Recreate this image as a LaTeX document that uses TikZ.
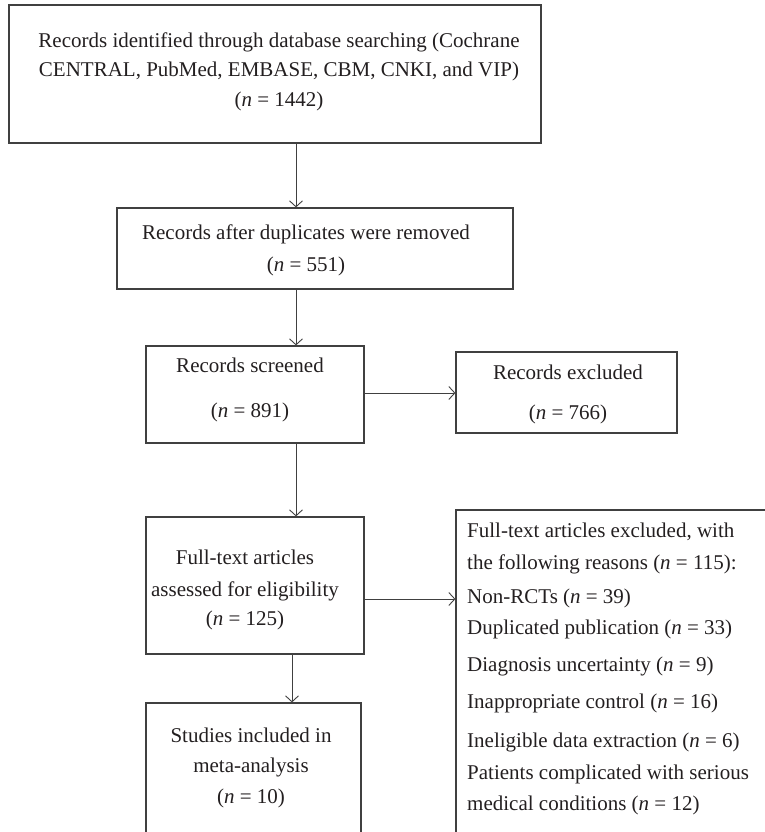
\documentclass[tikz,border=0pt]{standalone}
\usepackage{fontspec}
\setmainfont{Liberation Serif}
\usetikzlibrary{arrows.meta}
\definecolor{ink}{HTML}{231F20}
\definecolor{edge}{HTML}{404040}
\tikzset{
  box/.style={draw=edge, line width=1.2pt, inner sep=0pt, rectangle},
  txt/.style={anchor=base, inner sep=0pt, text=ink, font=\fontsize{21}{26}\selectfont},
  ltxt/.style={txt, anchor=base west},
  arr/.style={draw=edge, line width=0.9pt, -{Straight Barb[length=6pt,width=13pt]}}
}
\newcommand{\nn}{\textit{n}}
\begin{document}
\begin{tikzpicture}[x=1pt,y=-1pt]
\useasboundingbox (0,0) rectangle (765,832);
\clip (0,0) rectangle (765,832);
% boxes
\node[box, minimum width=532pt, minimum height=138pt] (b1) at (275,74) {};
\node[box, minimum width=396pt, minimum height=81pt] (b2) at (315,248.5) {};
\node[box, minimum width=218pt, minimum height=97pt] (b3) at (255,394.5) {};
\node[box, minimum width=221pt, minimum height=81pt] (b4) at (566.5,392.5) {};
\node[box, minimum width=218pt, minimum height=137pt] (b5) at (255,585.5) {};
\node[box, minimum width=344pt, minimum height=360pt] (b6) at (628,690) {};
\node[box, minimum width=215pt, minimum height=167pt] (b7) at (253.5,786.5) {};
% texts
\node[txt] (t1a) at (279,48) {Records identified through database searching (Cochrane};
\node[txt] (t1b) at (279,77) {CENTRAL, PubMed, EMBASE, CBM, CNKI, and VIP)};
\node[txt] (t1c) at (279,107) {(\nn{} = 1442)};
\node[txt] (t2a) at (306,239) {Records after duplicates were removed};
\node[txt] (t2b) at (306,271) {(\nn{} = 551)};
\node[txt] (t3a) at (250,372) {Records screened};
\node[txt] (t3b) at (250,417) {(\nn{} = 891)};
\node[txt] (t4a) at (568,379) {Records excluded};
\node[txt] (t4b) at (568,419) {(\nn{} = 766)};
\node[txt] (t5a) at (245,564) {Full-text articles};
\node[txt] (t5b) at (245,596) {assessed for eligibility};
\node[txt] (t5c) at (245,625) {(\nn{} = 125)};
\node[txt] (t7a) at (251,742) {Studies included in};
\node[txt] (t7b) at (251,772) {meta-analysis};
\node[txt] (t7c) at (251,803) {(\nn{} = 10)};
\node[ltxt] (t6a) at (467,537) {Full-text articles excluded, with};
\node[ltxt] (t6b) at (467,569) {the following reasons (\nn{} = 115):};
\node[ltxt] (t6c) at (467,603) {Non-RCTs (\nn{} = 39)};
\node[ltxt] (t6d) at (467,634) {Duplicated publication (\nn{} = 33)};
\node[ltxt] (t6e) at (467,671) {Diagnosis uncertainty (\nn{} = 9)};
\node[ltxt] (t6f) at (467,708) {Inappropriate control (\nn{} = 16)};
\node[ltxt] (t6g) at (467,747) {Ineligible data extraction (\nn{} = 6)};
\node[ltxt] (t6h) at (467,779) {Patients complicated with serious};
\node[ltxt] (t6i) at (467,810) {medical conditions (\nn{} = 12)};
% connector guides
\coordinate (vx) at (296,0);
\coordinate (vy) at (292,0);
\coordinate (h1) at (0,393);
\coordinate (h2) at (0,599);
% connectors
\draw[arr] (b1.south -| vx) -- (b2.north -| vx);
\draw[arr] (b2.south -| vx) -- (b3.north -| vx);
\draw[arr] (b3.east |- h1) -- (b4.west |- h1);
\draw[arr] (b3.south -| vx) -- (b5.north -| vx);
\draw[arr] (b5.east |- h2) -- (b6.west |- h2);
\draw[arr] (b5.south -| vy) -- (b7.north -| vy);
\end{tikzpicture}
\end{document}
